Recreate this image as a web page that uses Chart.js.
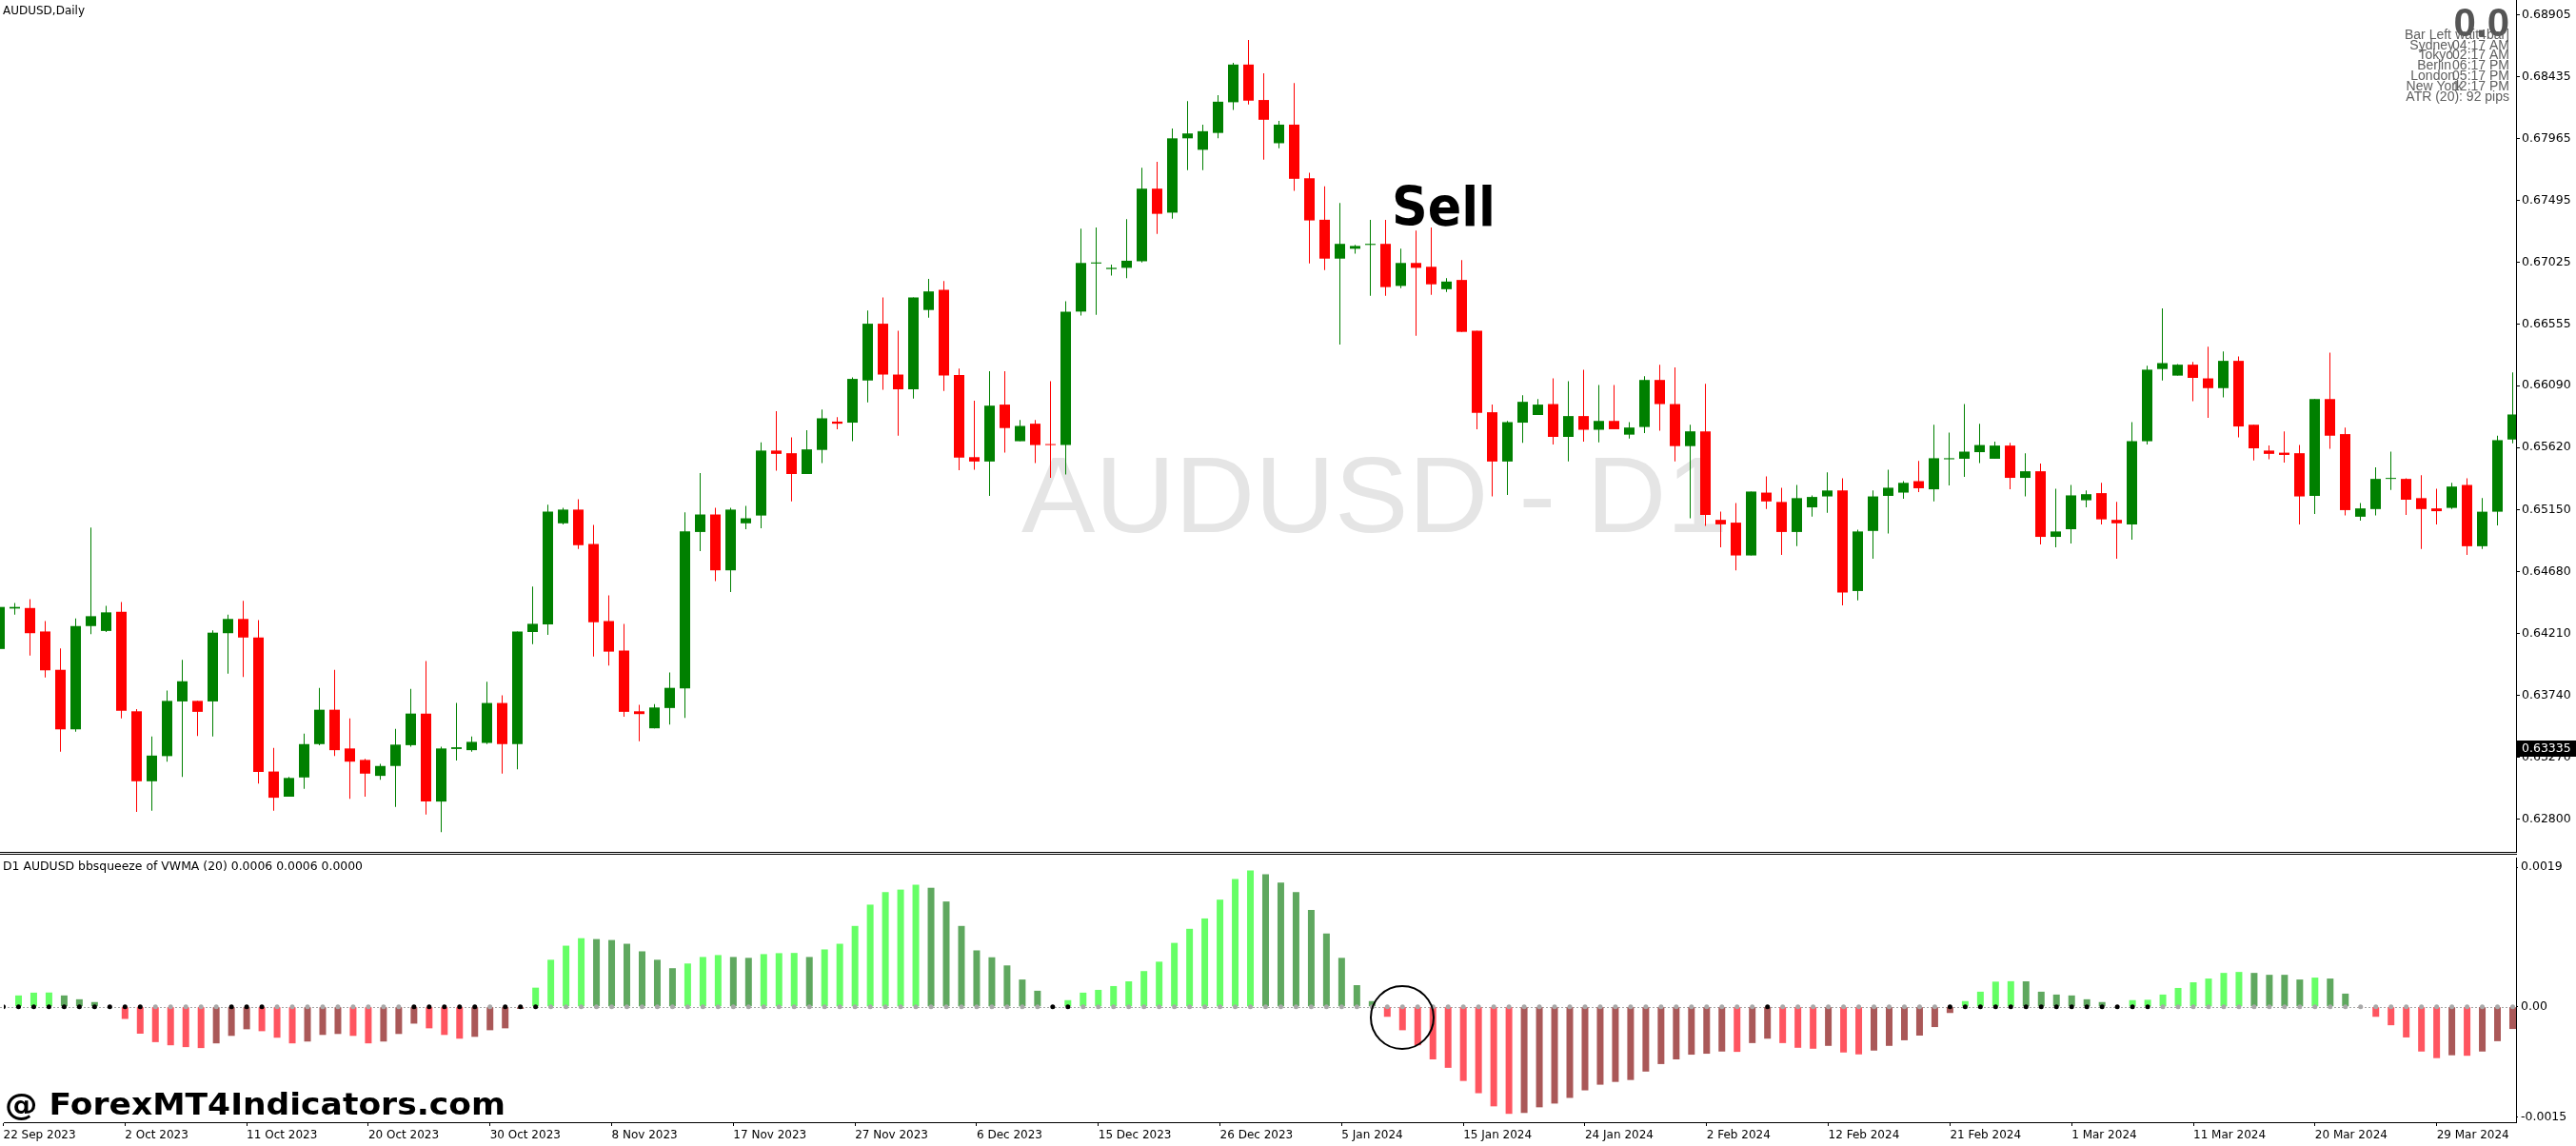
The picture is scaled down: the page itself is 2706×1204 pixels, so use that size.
<!DOCTYPE html>
<html>
<head>
<meta charset="utf-8">
<script src="https://cdn.jsdelivr.net/npm/chart.js@4.4.1/dist/chart.umd.min.js"></script>
<style>
html, body { margin: 0; padding: 0; background: #fff; width: 2706px; height: 1204px; overflow: hidden; }
#price { position: absolute; left: 0; top: 0; }
#sqz { position: absolute; left: 0; top: 897px; }
</style>
</head>
<body>
<canvas id="price" width="2706" height="896"></canvas>
<canvas id="sqz" width="2706" height="307"></canvas>
<script>
// AUDUSD daily candles, 22 Sep 2023 .. early Apr 2024 (one entry per bar)
const opens = [0.64091,0.64398,0.64402,0.64224,0.63933,0.63481,0.64265,0.64228,0.64373,0.63618,0.63087,0.63278,0.63693,0.63697,0.63693,0.64211,0.64319,0.64178,0.63161,0.62970,
0.63116,0.63369,0.63630,0.63336,0.63249,0.63128,0.63203,0.63361,0.63601,0.62933,0.63332,0.63323,0.63378,0.63681,0.63369,0.64220,0.64278,0.65045,0.65149,0.64888,
0.64303,0.64079,0.63618,0.63489,0.63643,0.63792,0.64979,0.65112,0.64688,0.65045,0.65104,0.65597,0.65577,0.65419,0.65602,0.65817,0.65809,0.66129,0.66560,0.66174,
0.66062,0.66664,0.66817,0.66170,0.65547,0.65514,0.65946,0.65668,0.65801,0.65643,0.65639,0.66652,0.67017,0.66975,0.66984,0.67034,0.67585,0.67403,0.67967,0.67880,
0.68008,0.68241,0.68527,0.68258,0.67930,0.68071,0.67664,0.67349,0.67054,0.67129,0.67158,0.67166,0.66847,0.67021,0.66992,0.66822,0.66892,0.66506,0.65888,0.65514,
0.65809,0.65867,0.65950,0.65701,0.65859,0.65755,0.65822,0.65718,0.65776,0.66133,0.65950,0.65631,0.65743,0.65071,0.65050,0.64801,0.65278,0.65207,0.64979,0.65166,
0.65249,0.65294,0.64531,0.64987,0.65253,0.65278,0.65365,0.65303,0.65531,0.65535,0.65585,0.65535,0.65635,0.65390,0.65440,0.64942,0.65000,0.65220,0.65274,0.65071,
0.65037,0.65668,0.66216,0.66166,0.66249,0.66145,0.66071,0.66278,0.65793,0.65597,0.65581,0.65577,0.65253,0.65988,0.65722,0.65095,0.65153,0.65382,0.65382,0.65236,
0.65158,0.65162,0.65336,0.64871,0.65133,0.65681];
const highs = [0.64452,0.64440,0.64469,0.64303,0.64095,0.64323,0.65012,0.64419,0.64448,0.63634,0.63427,0.63776,0.64008,0.63697,0.64232,0.64352,0.64456,0.64311,0.63340,0.63120,
0.63448,0.63796,0.63933,0.63564,0.63257,0.63220,0.63485,0.63788,0.64000,0.63349,0.63681,0.63427,0.63842,0.63739,0.64224,0.64564,0.65187,0.65162,0.65228,0.65033,
0.64498,0.64282,0.63668,0.63672,0.63912,0.65128,0.65427,0.65162,0.65162,0.65178,0.65660,0.65896,0.65697,0.65751,0.65909,0.65851,0.66153,0.66660,0.66759,0.66506,
0.66759,0.66900,0.66884,0.66220,0.65975,0.66199,0.66199,0.65830,0.65830,0.66124,0.66730,0.67282,0.67291,0.67009,0.67353,0.67743,0.67789,0.68042,0.68249,0.68071,
0.68295,0.68540,0.68714,0.68461,0.68100,0.68386,0.67706,0.67602,0.67477,0.67158,0.67349,0.67349,0.67129,0.67266,0.67291,0.66905,0.67042,0.66506,0.65946,0.65822,
0.66017,0.65988,0.66145,0.66124,0.66211,0.66095,0.66095,0.65813,0.66162,0.66249,0.66228,0.65793,0.66104,0.65133,0.65199,0.65286,0.65402,0.65315,0.65336,0.65257,
0.65431,0.65386,0.64996,0.65294,0.65452,0.65365,0.65519,0.65793,0.65734,0.65950,0.65801,0.65664,0.65656,0.65577,0.65498,0.65307,0.65336,0.65294,0.65352,0.65207,
0.65813,0.66241,0.66676,0.66253,0.66270,0.66386,0.66349,0.66311,0.65793,0.65635,0.65743,0.65639,0.65988,0.66340,0.65772,0.65199,0.65469,0.65589,0.65386,0.65411,
0.65307,0.65352,0.65386,0.65236,0.65710,0.66191];
const lows = [0.64058,0.64352,0.64041,0.63875,0.63311,0.63464,0.64203,0.64220,0.63564,0.62854,0.62863,0.63236,0.63120,0.63431,0.63427,0.63904,0.63879,0.63070,0.62863,0.62970,
0.63029,0.63361,0.63278,0.62954,0.62970,0.63099,0.62892,0.63349,0.62834,0.62701,0.63245,0.63311,0.63369,0.63145,0.63178,0.64128,0.64199,0.65037,0.64850,0.64033,
0.63966,0.63576,0.63390,0.63489,0.63518,0.63568,0.64834,0.64606,0.64523,0.65000,0.65008,0.65444,0.65211,0.65419,0.65502,0.65759,0.65668,0.65963,0.66058,0.65710,
0.65992,0.66606,0.66050,0.65448,0.65452,0.65253,0.65581,0.65668,0.65502,0.65390,0.65415,0.66622,0.66627,0.66925,0.66905,0.67025,0.67241,0.67357,0.67726,0.67726,
0.67967,0.68183,0.68224,0.67805,0.67892,0.67569,0.67017,0.66967,0.66402,0.67091,0.66772,0.66772,0.66830,0.66469,0.66780,0.66801,0.66498,0.65759,0.65249,0.65261,
0.65656,0.65867,0.65643,0.65514,0.65664,0.65660,0.65759,0.65689,0.65730,0.65747,0.65514,0.65083,0.65025,0.64863,0.64688,0.64801,0.65153,0.64805,0.64871,0.65095,
0.65124,0.64423,0.64460,0.64776,0.64967,0.65232,0.65282,0.65211,0.65332,0.65398,0.65502,0.65535,0.65303,0.65249,0.64884,0.64863,0.64892,0.65166,0.65037,0.64776,
0.64921,0.65643,0.66129,0.66166,0.65971,0.65846,0.66000,0.65697,0.65523,0.65531,0.65506,0.65037,0.65116,0.65610,0.65104,0.65066,0.65104,0.65299,0.65108,0.64850,
0.65037,0.65153,0.64805,0.64850,0.65029,0.65652];
const closes = [0.64410,0.64410,0.64211,0.63929,0.63481,0.64265,0.64340,0.64369,0.63622,0.63087,0.63282,0.63697,0.63846,0.63614,0.64215,0.64319,0.64178,0.63157,0.62962,0.63112,
0.63369,0.63630,0.63323,0.63236,0.63145,0.63203,0.63365,0.63601,0.62933,0.63336,0.63345,0.63386,0.63681,0.63369,0.64224,0.64282,0.65133,0.65149,0.64879,0.64294,
0.64071,0.63614,0.63597,0.63647,0.63796,0.64983,0.65112,0.64688,0.65149,0.65083,0.65597,0.65572,0.65419,0.65606,0.65842,0.65801,0.66141,0.66560,0.66174,0.66062,
0.66759,0.66805,0.66166,0.65543,0.65514,0.65938,0.65768,0.65784,0.65639,0.65639,0.66651,0.67021,0.67025,0.66984,0.67038,0.67585,0.67394,0.67967,0.68004,0.68021,
0.68245,0.68527,0.68253,0.68108,0.68071,0.67660,0.67344,0.67054,0.67166,0.67150,0.67166,0.66838,0.67021,0.66984,0.66859,0.66880,0.66498,0.65884,0.65514,0.65813,
0.65967,0.65946,0.65701,0.65859,0.65755,0.65822,0.65759,0.65772,0.66133,0.65950,0.65631,0.65743,0.65108,0.65037,0.64801,0.65286,0.65211,0.64979,0.65236,0.65245,
0.65294,0.64519,0.64983,0.65249,0.65315,0.65352,0.65311,0.65539,0.65539,0.65589,0.65639,0.65635,0.65390,0.65440,0.64942,0.64983,0.65257,0.65266,0.65075,0.65045,
0.65668,0.66211,0.66261,0.66249,0.66149,0.66071,0.66278,0.65780,0.65614,0.65572,0.65564,0.65249,0.65988,0.65710,0.65145,0.65158,0.65382,0.65386,0.65224,0.65153,
0.65137,0.65324,0.64871,0.65133,0.65676,0.65871];

// bbsqueeze of VWMA(20) histogram, one value per bar
const sqzHist = [0,0.000154,0.000192,0.000194,0.000154,0.000102,0.000064,0,-0.000166,-0.000367,
-0.000482,-0.000525,-0.000550,-0.000563,-0.000499,-0.000397,-0.000307,-0.000333,-0.000422,-0.000499,
-0.000474,-0.000384,-0.000371,-0.000397,-0.000499,-0.000474,-0.000371,-0.000230,-0.000294,-0.000384,
-0.000435,-0.000410,-0.000320,-0.000294,-0.000030,0.000260,0.000640,0.000832,0.000934,0.000922,
0.000909,0.000858,0.000755,0.000640,0.000525,0.000589,0.000678,0.000704,0.000678,0.000666,
0.000717,0.000730,0.000733,0.000678,0.000781,0.000858,0.001101,0.001391,0.001562,0.001596,
0.001664,0.001621,0.001434,0.001101,0.000768,0.000674,0.000563,0.000371,0.000218,0,
0.000090,0.000192,0.000230,0.000282,0.000346,0.000486,0.000614,0.000870,0.001062,0.001203,
0.001459,0.001741,0.001856,0.001805,0.001690,0.001562,0.001319,0.000998,0.000666,0.000294,
0.000077,-0.000137,-0.000320,-0.000525,-0.000717,-0.000832,-0.001011,-0.001178,-0.001357,-0.001459,
-0.001447,-0.001370,-0.001319,-0.001242,-0.001139,-0.001062,-0.001024,-0.000998,-0.000883,-0.000781,
-0.000717,-0.000653,-0.000640,-0.000610,-0.000615,-0.000495,-0.000435,-0.000495,-0.000559,-0.000572,
-0.000533,-0.000623,-0.000649,-0.000597,-0.000533,-0.000457,-0.000393,-0.000277,-0.000085,0.000077,
0.000205,0.000342,0.000348,0.000346,0.000205,0.000166,0.000154,0.000102,0.000064,0,
0.000090,0.000095,0.000166,0.000256,0.000333,0.000384,0.000461,0.000474,0.000461,0.000435,
0.000435,0.000371,0.000397,0.000384,0.000179,-0.000008,-0.000137,-0.000252,-0.000418,-0.000610,
-0.000700,-0.000661,-0.000668,-0.000610,-0.000469,-0.000303];
// bars where the squeeze is on (black dots), as [first, last]
const squeezeRuns = [[0, 9], [15, 17], [27, 31], [33, 35], [69, 70], [116, 116], [128, 141]];

// axis labels
const dateTicks = ['22 Sep 2023','2 Oct 2023','11 Oct 2023','20 Oct 2023','30 Oct 2023','8 Nov 2023','17 Nov 2023',
  '27 Nov 2023','6 Dec 2023','15 Dec 2023','26 Dec 2023','5 Jan 2024','15 Jan 2024','24 Jan 2024','2 Feb 2024',
  '12 Feb 2024','21 Feb 2024','1 Mar 2024','11 Mar 2024','20 Mar 2024','29 Mar 2024'];
const priceTicks = [0.68905,0.68435,0.67965,0.67495,0.67025,0.66555,0.66090,0.65620,0.65150,0.64680,0.64210,0.63740,0.63270,0.62800];
const sqzTicks = [0.0019, 0, -0.0015];
const sqzTickText = ['0.0019', '0.00', '-0.0015'];
const bidPrice = 0.63335;

const idx = opens.map((_, i) => i);
const xMin = 0.03125, xMax = 165.21875;   // 16px per bar
const UP = '#008000', DOWN = '#ff0000';
const candleCol = idx.map(i => closes[i] >= opens[i] ? UP : DOWN);

const histCol = sqzHist.map((v, i) => {
  const prev = i > 0 ? sqzHist[i - 1] : 0;
  if (v >= 0) return v > prev ? '#66ff66' : '#5fa85f';
  return v < prev ? '#ff5560' : '#aa5858';
});
const squeezeOn = idx.map(i => squeezeRuns.some(r => i >= r[0] && i <= r[1]));
const dotCol = squeezeOn.map(on => on ? '#000000' : '#a8a8a8');

Chart.defaults.font.family = '"DejaVu Sans", sans-serif';
Chart.defaults.color = '#000';

function fitText(ctx, str, x, y, width, font, color) {
  ctx.save();
  ctx.font = font;
  ctx.fillStyle = color;
  ctx.textAlign = 'left';
  ctx.textBaseline = 'alphabetic';
  const w = ctx.measureText(str).width;
  ctx.translate(x, y);
  ctx.scale(width / w, 1);
  ctx.fillText(str, 0, 0);
  ctx.restore();
}

// no half-label padding around the axes, the plot goes edge to edge
function noPad(s) {
  s.paddingTop = 0; s.paddingBottom = 0; s.paddingLeft = 0; s.paddingRight = 0;
}

const priceDecor = {
  id: 'priceDecor',
  beforeDatasetsDraw(chart) {
    const ctx = chart.ctx;
    fitText(ctx, 'AUDUSD - D1', 1073, 559, 742, '113px "Liberation Sans"', '#e5e5e5');
  },
  afterDraw(chart) {
    const ctx = chart.ctx;
    const y = chart.scales.y;
    ctx.save();
    ctx.fillStyle = '#000';
    ctx.fillRect(0, 895, 2644, 1);
    ctx.restore();

    fitText(ctx, 'AUDUSD,Daily', 3, 15, 86, '12px "DejaVu Sans"', '#000');
    fitText(ctx, 'Sell', 1462, 237, 109, 'bold 57px "DejaVu Sans"', '#000');

    // info block, top right
    ctx.save();
    ctx.fillStyle = '#555';
    ctx.font = 'bold 42px "Liberation Sans"';
    ctx.textAlign = 'right';
    ctx.textBaseline = 'alphabetic';
    ctx.fillText('0.0', 2636, 38);
    ctx.fillStyle = '#606060';
    ctx.font = '14px "Liberation Sans"';
    ctx.textBaseline = 'middle';
    const rows = [['Bar Left', 'wait4bar]', 2575], ['Sydney', '04:17 AM', 2578], ['Tokyo', '02:17 AM', 2577],
      ['Berlin', '06:17 PM', 2575], ['London', '05:17 PM', 2579], ['New York', '12:17 PM', 2587]];
    rows.forEach((r, k) => {
      const yy = 37 + k * 10.8;
      ctx.fillText(r[0], r[2], yy);
      ctx.fillText(r[1], 2636, yy);
    });
    ctx.fillText('ATR (20): 92 pips', 2636, 37 + 6 * 10.8);
    ctx.restore();

    // current price box
    const py = Math.round(y.getPixelForValue(bidPrice));
    ctx.save();
    ctx.fillStyle = '#000';
    ctx.fillRect(2643, py - 8, 63, 17);
    ctx.fillStyle = '#fff';
    ctx.font = '12.5px "DejaVu Sans"';
    ctx.textBaseline = 'middle';
    ctx.fillText(bidPrice.toFixed(5), 2649, py + 1);
    ctx.restore();
  }
};

new Chart(document.getElementById('price'), {
  type: 'bar',
  data: {
    datasets: [
      {
        data: idx.map(i => ({ x: i, y: [opens[i], closes[i]] })),
        backgroundColor: candleCol, borderWidth: 0, barThickness: 11, grouped: false,
        minBarLength: 1, inflateAmount: 0, order: 0
      },
      {
        data: idx.map(i => ({ x: i, y: [lows[i], highs[i]] })),
        backgroundColor: candleCol, borderWidth: 0, barThickness: 1, grouped: false,
        inflateAmount: 0, order: 1
      }
    ]
  },
  options: {
    responsive: false,
    animation: false,
    devicePixelRatio: 1,
    layout: { padding: { left: 0, right: 0, top: 0, bottom: 1 } },
    plugins: { legend: { display: false }, tooltip: { enabled: false } },
    scales: {
      x: { type: 'linear', min: xMin, max: xMax, offset: false, display: false, grid: { offset: false } },
      y: {
        position: 'right',
        min: 0.62551, max: 0.69017,
        beginAtZero: false,
        afterFit: s => { s.width = 63; noPad(s); },
        afterBuildTicks: s => { s.ticks = priceTicks.map(v => ({ value: v })); },
        ticks: { autoSkip: false, padding: 2, font: { size: 12.5 }, callback: v => v.toFixed(5) },
        grid: { drawOnChartArea: false, tickLength: 4, color: '#000' },
        border: { color: '#000' }
      }
    }
  },
  plugins: [priceDecor]
});

const sqzDecor = {
  id: 'sqzDecor',
  beforeDatasetsDraw(chart) {
    const ctx = chart.ctx;
    const z = Math.round(chart.scales.y.getPixelForValue(0)) + 0.5;
    ctx.save();
    ctx.strokeStyle = '#a8a8a8';
    ctx.lineWidth = 1;
    ctx.setLineDash([2, 2]);
    ctx.beginPath();
    ctx.moveTo(0, z);
    ctx.lineTo(chart.chartArea.right, z);
    ctx.stroke();
    ctx.restore();
  },
  afterDraw(chart) {
    const ctx = chart.ctx;
    ctx.save();
    ctx.fillStyle = '#000';
    ctx.fillRect(0, 0, 2644, 1);
    ctx.strokeStyle = '#000';
    ctx.lineWidth = 2;
    ctx.beginPath();
    ctx.arc(1473, 172, 33, 0, Math.PI * 2);
    ctx.stroke();
    ctx.restore();
    fitText(ctx, 'D1 AUDUSD bbsqueeze of VWMA (20) 0.0006 0.0006 0.0000', 3, 17, 378, '12px "DejaVu Sans"', '#000');
    fitText(ctx, '@ ForexMT4Indicators.com', 5, 274, 526, 'bold 32px "DejaVu Sans"', '#000');
  }
};

new Chart(document.getElementById('sqz'), {
  type: 'bar',
  data: {
    datasets: [
      {
        type: 'bar',
        data: idx.map(i => ({ x: i, y: sqzHist[i] })),
        backgroundColor: histCol, borderWidth: 0, barThickness: 7, grouped: false,
        inflateAmount: 0, order: 1
      },
      {
        type: 'scatter',
        data: idx.map(i => ({ x: i, y: 0 })),
        pointRadius: 2.5, pointBorderWidth: 0,
        pointBackgroundColor: dotCol, order: 0
      }
    ]
  },
  options: {
    responsive: false,
    animation: false,
    devicePixelRatio: 1,
    layout: { padding: { left: 0, right: 0, top: 1, bottom: 0 } },
    plugins: { legend: { display: false }, tooltip: { enabled: false } },
    scales: {
      x: {
        type: 'linear', min: xMin, max: xMax, offset: false,
        afterFit: s => { s.height = 25; noPad(s); },
        afterBuildTicks: s => { s.ticks = dateTicks.map((_, k) => ({ value: k * 8 })); },
        ticks: { autoSkip: false, maxRotation: 0, align: 'start', padding: 3, font: { size: 12 },
          callback: v => dateTicks[Math.round(v / 8)] },
        grid: { drawOnChartArea: false, tickLength: 4, color: '#000', offset: false },
        border: { color: '#000' }
      },
      y: {
        position: 'right',
        min: -0.001573, max: 0.002032,
        afterFit: s => { s.width = 63; noPad(s); },
        afterBuildTicks: s => { s.ticks = sqzTicks.map(v => ({ value: v })); },
        ticks: { autoSkip: false, padding: 3, font: { size: 12.5 },
          callback: (v, k) => sqzTickText[k] },
        grid: { drawOnChartArea: false, tickLength: 2, color: '#000' },
        border: { color: '#000' }
      }
    }
  },
  plugins: [sqzDecor]
});
</script>
</body>
</html>
